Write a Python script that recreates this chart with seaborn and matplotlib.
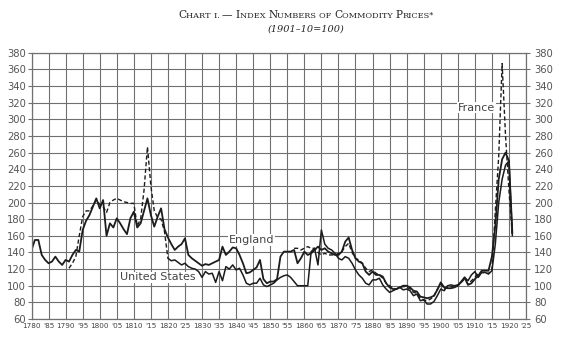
import numpy as np
import pandas as pd
import matplotlib
matplotlib.use("Agg")
import matplotlib.pyplot as plt
from matplotlib.offsetbox import TextArea, HPacker, AnchoredOffsetbox
import seaborn as sns

# ---------------- data ----------------
england_years = list(range(1780, 1922))
england = [
    143, 155, 155, 137, 131, 127, 129, 135, 129, 125,   # 1780s
    131, 129, 137, 143, 141, 167, 178, 185, 195, 205,   # 1790s
    193, 203, 160, 175, 170, 181, 175, 168, 162, 181,   # 1800s
    189, 170, 175, 190, 205, 185, 171, 183, 193, 168,   # 1810s
    158, 150, 143, 147, 150, 157, 137, 133, 130, 127,   # 1820s
    124, 126, 125, 127, 129, 131, 147, 137, 141, 146,   # 1830s
    145, 137, 127, 115, 116, 119, 122, 131, 108, 103,   # 1840s
    105, 105, 108, 135, 141, 141, 141, 143, 127, 133,   # 1850s
    141, 137, 139, 143, 147, 143, 145, 141, 139, 137,   # 1860s
    137, 141, 153, 158, 143, 133, 129, 127, 117, 113,   # 1870s
    117, 113, 113, 111, 103, 98, 96, 96, 98, 100,       # 1880s
    100, 98, 94, 93, 87, 86, 85, 86, 88, 95,            # 1890s
    104, 98, 97, 97, 98, 100, 105, 110, 101, 103,       # 1900s
    108, 112, 118, 118, 118, 135, 172, 228, 252, 260,   # 1910s
    250, 163,                                           # 1920-21
]

us_early_years = list(range(1791, 1821))
us_early = [
    121, 127, 135, 160, 183, 190, 190, 196, 203,        # 1791-99
    198, 195, 188, 200, 203, 205, 203, 201, 200, 199,   # 1800s
    199, 172, 180, 215, 267, 220, 190, 182, 180, 165,   # 1810s
    133,                                                # 1820
]

us_years = list(range(1820, 1922))
us = [
    133, 130, 131, 128, 125, 127, 123, 121, 120, 117,   # 1820s
    110, 117, 114, 115, 104, 117, 106, 123, 120, 125,   # 1830s
    119, 121, 113, 103, 101, 103, 103, 109, 101, 99,    # 1840s
    101, 103, 107, 110, 112, 113, 110, 105, 100, 100,   # 1850s
    100, 100, 141, 145, 125, 167, 150, 145, 143, 139,   # 1860s
    133, 131, 135, 133, 127, 119, 113, 109, 103, 101,   # 1870s
    107, 107, 109, 101, 96, 92, 94, 96, 98, 95,         # 1880s
    96, 94, 88, 90, 82, 83, 78, 78, 81, 88,             # 1890s
    96, 94, 100, 101, 100, 101, 104, 110, 106, 113,     # 1900s
    117, 110, 116, 116, 114, 118, 150, 200, 228, 245,   # 1910s
    250, 160,                                           # 1920-21
]

france_years = list(range(1857, 1922))
france = [
    145, 145, 143,                                      # 1857-59
    145, 147, 145, 145, 140, 137, 139, 137, 137, 137,   # 1860s
    139, 141, 147, 151, 140, 133, 131, 127, 121, 117,   # 1870s
    119, 115, 113, 109, 103, 100, 97, 96, 98, 99,       # 1880s
    98, 96, 92, 91, 85, 83, 82, 84, 87, 96,             # 1890s
    102, 96, 98, 99, 98, 100, 104, 108, 102, 106,       # 1900s
    110, 115, 116, 115, 115, 118, 190, 256, 367, 280,   # 1910s
    215, 160,                                           # 1920-21
]

x_ticks = list(range(1780, 1926, 5))
x_tick_labels = [str(y) if y % 10 == 0 else "'" + str(y)[2:] for y in x_ticks]
y_ticks = list(range(60, 381, 20))

title_words = ["Chart", "I.", "—", "Index", "Numbers", "of", "Commodity", "Prices*"]
subtitle = "(1901–10=100)"

# ---------------- figure ----------------
sns.set_style("white")
plt.rcParams["font.family"] = ["DejaVu Sans"]

W, H = 572, 355
fig = plt.figure(figsize=(W / 100, H / 100), dpi=100)
ax = fig.add_axes([31.5 / W, 1 - 319 / H, (526 - 31.5) / W, (319 - 52.8) / H])

line_col = "#1c1c1c"
grid_col = "#707070"

ax.set_xlim(1780, 1925)
ax.set_ylim(60, 380)
ax.set_xticks(x_ticks)
ax.set_yticks(y_ticks)
ax.grid(True, color=grid_col, linewidth=0.8)
ax.set_axisbelow(True)
for s in ax.spines.values():
    s.set_color(grid_col)
    s.set_linewidth(0.9)

df_e = pd.DataFrame({"year": england_years, "value": england})
df_ue = pd.DataFrame({"year": us_early_years, "value": us_early})
df_u = pd.DataFrame({"year": us_years, "value": us})
df_f = pd.DataFrame({"year": france_years, "value": france})

sns.lineplot(data=df_e, x="year", y="value", ax=ax, color=line_col, linewidth=1.3)
sns.lineplot(data=df_u, x="year", y="value", ax=ax, color=line_col, linewidth=1.1)
sns.lineplot(data=df_ue, x="year", y="value", ax=ax, color=line_col, linewidth=1.0,
             linestyle=(0, (3, 1.8)))
sns.lineplot(data=df_f, x="year", y="value", ax=ax, color=line_col, linewidth=1.0,
             linestyle=(0, (3, 1.8)))

ax.set_xlabel("")
ax.set_ylabel("")
ax.set_xticklabels(x_tick_labels, fontsize=5.2, color="#444")
ax.tick_params(axis="x", length=0, pad=3)
ax.tick_params(axis="y", length=3, pad=1, labelsize=7.2, labelcolor="#555", color=grid_col)

ax2 = ax.twinx()
ax2.set_ylim(60, 380)
ax2.set_yticks(y_ticks)
ax2.tick_params(axis="y", length=3, pad=3, labelsize=7.2, labelcolor="#555", color=grid_col)
for s in ax2.spines.values():
    s.set_visible(False)

# series labels
lab_kw = dict(fontsize=8, color="#444", ha="center", va="center")
bb = dict(facecolor="white", edgecolor="none", pad=0.5)
ax.text(1844.5, 155, "England", bbox=bb, **lab_kw)
ax.text(1817, 110, "United States", bbox=bb, **lab_kw)
ax.text(1910.5, 314, "France", bbox=bb, **lab_kw)

# title in small caps
big, small = 7.6, 5.9
pieces = []
for i, w in enumerate(title_words):
    sep = " " if i < len(title_words) - 1 else ""
    if w[0].isupper() and w != "I.":
        pieces.append(TextArea(w[0], textprops=dict(fontsize=big, family="DejaVu Serif", color="#222")))
        if len(w) > 1:
            pieces.append(TextArea(w[1:].upper() + sep, textprops=dict(fontsize=small, family="DejaVu Serif", color="#222")))
        elif sep:
            pieces.append(TextArea(sep, textprops=dict(fontsize=small, family="DejaVu Serif")))
    else:
        pieces.append(TextArea(w.upper() + sep, textprops=dict(fontsize=small if w != "—" else big, family="DejaVu Serif", color="#222")))
box = HPacker(children=pieces, align="baseline", pad=0, sep=0)
anch = AnchoredOffsetbox(loc="center", child=box, frameon=False,
                         bbox_to_anchor=(306 / W, 1 - 15 / H), bbox_transform=fig.transFigure,
                         borderpad=0, pad=0)
fig.add_artist(anch)
fig.text(306 / W, 1 - 29 / H, subtitle, ha="center", va="center",
         fontsize=7, family="DejaVu Serif", style="italic", color="#222")

fig.savefig("out.png", dpi=100)
